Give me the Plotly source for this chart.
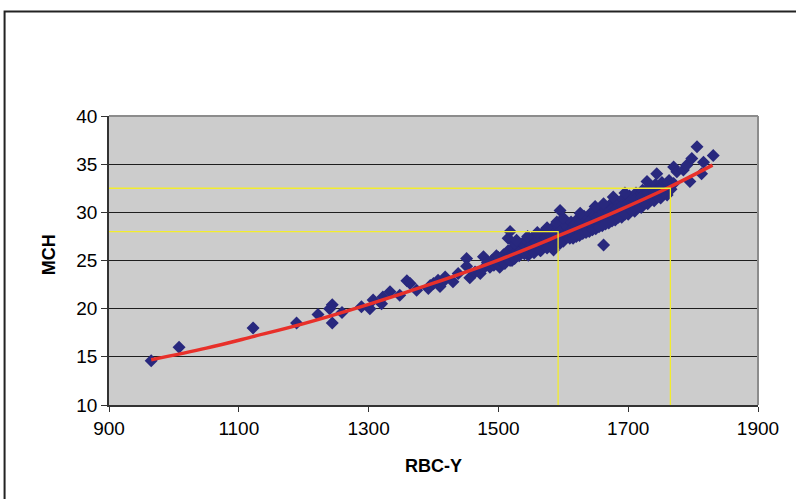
import plotly.graph_objects as go

# ---- data ----
rbc_low = [965, 1008, 1122, 1189, 1222, 1240, 1244, 1244, 1259, 1289, 1302, 1307, 1320, 1322,
           1333, 1348, 1359, 1364, 1374, 1392, 1395, 1400, 1407, 1410, 1418, 1418, 1430, 1438,
           1451, 1451, 1456, 1464, 1472, 1477, 1477, 1487, 1497, 1502, 1513, 1521, 1538, 1546,
           1554, 1564, 1574, 1582, 1585, 1483, 1490, 1493]
mch_low = [14.6, 16.0, 18.0, 18.5, 19.4, 20.0, 20.4, 18.5, 19.6, 20.2, 20.0, 20.9, 20.5, 21.2,
           21.75, 21.4, 22.9, 22.6, 21.9, 22.1, 22.4, 22.6, 22.95, 22.3, 23.0, 23.3, 22.8, 23.65,
           25.2, 24.4, 23.2, 23.8, 23.65, 25.4, 24.2, 24.3, 25.5, 24.3, 25.7, 25.0, 26.25, 25.55,
           26.6, 26.1, 26.6, 27.1, 26.1, 24.8, 25.0, 24.5]

rbc_band = [1500, 1500, 1505, 1508, 1510, 1512, 1515, 1518, 1520, 1522, 1525, 1527, 1530, 1532,
            1535, 1537, 1540, 1542, 1545, 1547, 1550, 1552, 1555, 1557, 1560, 1562, 1565, 1567,
            1570, 1572, 1575, 1577, 1580, 1582, 1585, 1587, 1590, 1592, 1595, 1597, 1600, 1602,
            1605, 1607, 1610, 1612, 1615, 1617, 1620, 1622, 1625, 1627, 1630, 1632, 1635, 1637,
            1640, 1642, 1645, 1647, 1650, 1652, 1655, 1657, 1660, 1662, 1665, 1667, 1670, 1672,
            1675, 1677, 1680, 1682, 1685, 1687, 1690, 1692, 1695, 1697, 1700, 1702, 1705, 1707,
            1710, 1712, 1715, 1717, 1720, 1722, 1725, 1727, 1730, 1732, 1735, 1737, 1740, 1742,
            1745, 1748, 1750, 1752, 1755, 1758, 1760, 1763, 1766, 1770]
mch_band = [24.6, 25.3, 24.9, 25.6, 24.7, 25.2, 26.0, 25.0, 25.6, 26.3, 25.2, 25.9, 26.5, 25.5,
            26.1, 26.8, 25.7, 26.4, 27.0, 25.9, 26.6, 27.3, 26.0, 26.9, 27.5, 26.3, 27.1, 27.8,
            26.6, 27.4, 28.0, 26.8, 27.6, 28.3, 27.1, 27.9, 26.9, 28.5, 27.4, 28.2, 27.0, 28.8,
            27.6, 28.4, 27.3, 29.0, 27.9, 28.7, 27.5, 29.3, 28.2, 29.0, 27.8, 29.6, 28.5, 29.3,
            28.0, 29.9, 28.8, 29.6, 28.3, 30.2, 29.1, 29.9, 28.6, 30.5, 29.4, 30.2, 28.9, 30.8,
            29.7, 30.5, 29.2, 31.1, 30.0, 30.8, 29.5, 31.4, 30.3, 31.1, 29.8, 31.7, 30.6, 31.4,
            30.1, 32.0, 30.9, 31.7, 30.5, 32.3, 31.2, 32.0, 30.9, 32.6, 31.5, 32.3, 31.2, 32.9,
            31.8, 32.6, 31.5, 33.1, 32.1, 32.8, 31.8, 33.3, 32.4, 33.0]

rbc_fill = [1555, 1565, 1575, 1585, 1595, 1615, 1625, 1635, 1645, 1655, 1665, 1675, 1685, 1695,
            1705, 1715, 1725, 1735, 1745, 1755, 1610, 1620, 1630, 1640, 1650, 1660, 1670, 1680,
            1690, 1700, 1710, 1720, 1730, 1740, 1750, 1525, 1545, 1560, 1575, 1590]
mch_fill = [25.8, 26.0, 26.3, 26.5, 26.8, 27.3, 27.6, 27.9, 28.2, 28.5, 28.8, 29.1, 29.5, 29.8,
            30.2, 30.6, 31.0, 31.3, 31.7, 32.0, 28.0, 28.4, 28.7, 29.0, 29.4, 29.7, 30.0, 30.3,
            30.7, 31.0, 31.3, 31.6, 32.0, 32.2, 32.6, 26.8, 27.5, 27.9, 28.4, 29.0]

rbc_out = [1515, 1518, 1528, 1595, 1600, 1626, 1649, 1662, 1662, 1677, 1695, 1729, 1744, 1749,
           1770, 1775, 1785, 1790, 1795, 1798, 1806, 1813, 1816, 1831]
mch_out = [27.3, 28.0, 27.1, 30.2, 29.4, 29.9, 30.6, 26.6, 30.9, 31.6, 32.0, 33.2, 34.0, 32.3,
           34.7, 34.2, 34.4, 34.9, 33.2, 35.6, 36.8, 34.0, 35.2, 35.9]

rbc = rbc_low + rbc_band + rbc_fill + rbc_out
mch = mch_low + mch_band + mch_fill + mch_out

trend_x = [965, 1050, 1122, 1200, 1300, 1400, 1500, 1592, 1680, 1760, 1830]
trend_y = [14.7, 15.9, 17.1, 18.45, 20.45, 22.65, 25.05, 27.55, 30.05, 32.5, 34.9]

guide1_x = [900, 1592, 1592]
guide1_y = [28, 28, 10]
guide2_x = [900, 1765, 1765]
guide2_y = [32.5, 32.5, 10]

x_ticks = [900, 1100, 1300, 1500, 1700, 1900]
y_ticks = [10, 15, 20, 25, 30, 35, 40]

FONT = "Liberation Sans, Arial, sans-serif"

fig = go.Figure()
fig.add_trace(go.Scatter(x=rbc, y=mch, mode="markers",
                         marker=dict(symbol="diamond", size=10, color="#28287E",
                                     line=dict(width=0)),
                         showlegend=False, hoverinfo="x+y"))
fig.add_trace(go.Scatter(x=trend_x, y=trend_y, mode="lines",
                         line=dict(color="#E8302A", width=3.5, shape="spline"),
                         showlegend=False))
for gx, gy in [(guide1_x, guide1_y), (guide2_x, guide2_y)]:
    fig.add_trace(go.Scatter(x=gx, y=gy, mode="lines",
                             line=dict(color="#F2EC2E", width=1.3),
                             showlegend=False, hoverinfo="skip"))

fig.update_layout(
    width=796, height=499,
    margin=dict(l=109, r=38, t=116, b=94),
    paper_bgcolor="white",
    plot_bgcolor="#CCCCCC",
    font=dict(family=FONT, size=19, color="black"),
    xaxis=dict(range=[900, 1900], tickvals=x_ticks, showgrid=False, zeroline=False,
               showline=True, linecolor="#333333", linewidth=1.5,
               ticks="outside", ticklen=5, tickcolor="#333333",
               tickfont=dict(size=19)),
    yaxis=dict(range=[10, 40], tickvals=y_ticks, showgrid=True, gridcolor="#1E1E1E",
               gridwidth=1, zeroline=False,
               showline=True, linecolor="#333333", linewidth=1.5,
               ticks="outside", ticklen=6, tickcolor="#333333",
               tickfont=dict(size=19)),
    shapes=[
        dict(type="line", xref="paper", yref="paper", x0=0, x1=1, y0=1, y1=1,
             line=dict(color="#8C8C8C", width=2), layer="above"),
        dict(type="line", xref="paper", yref="paper", x0=1, x1=1, y0=0, y1=1,
             line=dict(color="#8C8C8C", width=2), layer="above"),
        dict(type="rect", xref="paper", yref="paper", x0=-0.1609, x1=1.3, y0=-0.5, y1=1.3619,
             line=dict(color="#222222", width=2), fillcolor="rgba(0,0,0,0)"),
    ],
    annotations=[
        dict(text="<b>RBC-Y</b>", xref="paper", yref="paper", x=0.5, y=-0.21,
             xanchor="center", yanchor="middle", showarrow=False,
             font=dict(size=18, family=FONT)),
        dict(text="<b>MCH</b>", xref="paper", yref="paper", x=-0.093, y=0.52,
             xanchor="center", yanchor="middle", showarrow=False, textangle=-90,
             font=dict(size=18, family=FONT)),
    ],
)

fig.write_html("out.html")
